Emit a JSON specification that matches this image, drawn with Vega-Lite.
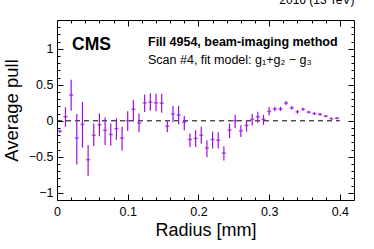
{
  "$schema": "https://vega.github.io/schema/vega-lite/v6.json",
  "width": 297,
  "height": 180,
  "autosize": "none",
  "padding": {"left": 57, "top": 20, "right": 20, "bottom": 49},
  "background": "white",
  "config": {
    "view": {"stroke": "black", "strokeWidth": 1},
    "font": "Liberation Sans",
    "axis": {"grid": false, "domain": false, "tickColor": "black", "labelColor": "black", "titleColor": "black", "labelFont": "Liberation Sans", "titleFont": "Liberation Sans", "titleFontWeight": "normal"}
  },
  "title": {"text": "2016 (13 TeV)", "anchor": "end", "fontSize": 12, "fontWeight": "normal", "font": "Liberation Sans", "offset": 4, "color": "black"},
  "data": {
    "values": [
      {"r": 0.004, "p": -0.145, "lo": -0.17, "hi": -0.12},
      {"r": 0.012, "p": 0.056, "lo": -0.084, "hi": 0.187},
      {"r": 0.020, "p": 0.36, "lo": 0.14, "hi": 0.57},
      {"r": 0.028, "p": -0.24, "lo": -0.607, "hi": 0.093},
      {"r": 0.036, "p": -0.05, "lo": -0.374, "hi": 0.262},
      {"r": 0.044, "p": -0.54, "lo": -0.762, "hi": -0.336},
      {"r": 0.052, "p": -0.2, "lo": -0.355, "hi": -0.037},
      {"r": 0.060, "p": -0.055, "lo": -0.215, "hi": 0.103},
      {"r": 0.068, "p": -0.13, "lo": -0.336, "hi": 0.047},
      {"r": 0.076, "p": -0.19, "lo": -0.346, "hi": -0.037},
      {"r": 0.084, "p": -0.11, "lo": -0.262, "hi": 0.037},
      {"r": 0.092, "p": -0.24, "lo": -0.411, "hi": -0.084},
      {"r": 0.100, "p": 0.0, "lo": -0.14, "hi": 0.131},
      {"r": 0.108, "p": 0.16, "lo": 0.01, "hi": 0.29},
      {"r": 0.116, "p": -0.03, "lo": -0.159, "hi": 0.103},
      {"r": 0.124, "p": 0.25, "lo": 0.121, "hi": 0.364},
      {"r": 0.132, "p": 0.26, "lo": 0.14, "hi": 0.383},
      {"r": 0.140, "p": 0.25, "lo": 0.131, "hi": 0.374},
      {"r": 0.148, "p": 0.245, "lo": 0.112, "hi": 0.374},
      {"r": 0.156, "p": -0.075, "lo": -0.159, "hi": 0.01},
      {"r": 0.164, "p": 0.095, "lo": -0.019, "hi": 0.206},
      {"r": 0.172, "p": 0.08, "lo": -0.047, "hi": 0.206},
      {"r": 0.180, "p": -0.02, "lo": -0.131, "hi": 0.065},
      {"r": 0.188, "p": -0.26, "lo": -0.364, "hi": -0.178},
      {"r": 0.196, "p": -0.245, "lo": -0.364, "hi": -0.131},
      {"r": 0.204, "p": -0.2, "lo": -0.318, "hi": -0.084},
      {"r": 0.212, "p": -0.38, "lo": -0.505, "hi": -0.271},
      {"r": 0.220, "p": -0.26, "lo": -0.383, "hi": -0.15},
      {"r": 0.228, "p": -0.27, "lo": -0.383, "hi": -0.159},
      {"r": 0.236, "p": -0.45, "lo": -0.551, "hi": -0.355},
      {"r": 0.244, "p": -0.13, "lo": -0.243, "hi": -0.037},
      {"r": 0.252, "p": 0.0, "lo": -0.103, "hi": 0.084},
      {"r": 0.260, "p": -0.14, "lo": -0.224, "hi": -0.061},
      {"r": 0.268, "p": -0.065, "lo": -0.15, "hi": 0.01},
      {"r": 0.276, "p": 0.02, "lo": -0.065, "hi": 0.093},
      {"r": 0.284, "p": 0.056, "lo": -0.028, "hi": 0.126},
      {"r": 0.292, "p": 0.02, "lo": -0.056, "hi": 0.084},
      {"r": 0.300, "p": 0.13, "lo": 0.075, "hi": 0.187},
      {"r": 0.308, "p": 0.165, "lo": 0.131, "hi": 0.196},
      {"r": 0.316, "p": 0.165, "lo": 0.135, "hi": 0.195},
      {"r": 0.324, "p": 0.245, "lo": 0.215, "hi": 0.275},
      {"r": 0.332, "p": 0.18, "lo": 0.155, "hi": 0.205},
      {"r": 0.340, "p": 0.125, "lo": 0.1, "hi": 0.15},
      {"r": 0.348, "p": 0.16, "lo": 0.14, "hi": 0.18},
      {"r": 0.356, "p": 0.12, "lo": 0.1, "hi": 0.14},
      {"r": 0.364, "p": 0.1, "lo": 0.08, "hi": 0.12},
      {"r": 0.372, "p": 0.09, "lo": 0.07, "hi": 0.11},
      {"r": 0.380, "p": 0.065, "lo": 0.05, "hi": 0.08},
      {"r": 0.388, "p": 0.03, "lo": 0.015, "hi": 0.045},
      {"r": 0.396, "p": 0.035, "lo": 0.02, "hi": 0.05}
    ]
  },
  "layer": [
    {
      "data": {"values": [{}]},
      "mark": {"type": "rule", "stroke": "black", "strokeWidth": 1, "strokeDash": [5, 4]},
      "encoding": {
        "x": {"datum": 0, "type": "quantitative", "scale": {"domain": [0, 0.42], "nice": false, "zero": false}, "axis": null},
        "x2": {"datum": 0.4},
        "y": {"datum": 0, "type": "quantitative", "scale": {"domain": [-1.1, 1.4], "nice": false, "zero": false}, "axis": null}
      }
    },
    {
      "mark": {"type": "rule", "stroke": "#9b10e0", "strokeWidth": 1.2},
      "encoding": {
        "x": {"field": "r", "type": "quantitative", "scale": {"domain": [0, 0.42], "nice": false, "zero": false},
          "axis": {"orient": "bottom", "values": [0, 0.02, 0.04, 0.06, 0.08, 0.1, 0.12, 0.14, 0.16, 0.18, 0.2, 0.22, 0.24, 0.26, 0.28, 0.3, 0.32, 0.34, 0.36, 0.38, 0.4],
            "format": "~g",
            "labelExpr": "abs(datum.value*10 - round(datum.value*10)) < 0.001 ? datum.label : ''",
            "tickSize": {"condition": {"test": "abs(datum.value*10 - round(datum.value*10)) < 0.001", "value": -6}, "value": -3},
            "labelPadding": 11, "labelFontSize": 12.5, "labelFlush": false,
            "title": "Radius [mm]", "titleFontSize": 18, "titlePadding": 4}},
        "y": {"field": "lo", "type": "quantitative", "scale": {"domain": [-1.1, 1.4], "nice": false, "zero": false},
          "axis": {"orient": "left", "values": [-1, -0.9, -0.8, -0.7, -0.6, -0.5, -0.4, -0.3, -0.2, -0.1, 0, 0.1, 0.2, 0.3, 0.4, 0.5, 0.6, 0.7, 0.8, 0.9, 1, 1.1, 1.2, 1.3],
            "format": "~g",
            "labelExpr": "abs(datum.value*2 - round(datum.value*2)) < 0.001 ? datum.label : ''",
            "tickSize": {"condition": {"test": "abs(datum.value*2 - round(datum.value*2)) < 0.001", "value": -6}, "value": -3},
            "labelPadding": 10, "labelFontSize": 12.5, "labelFlush": false,
            "title": "Average pull", "titleFontSize": 18.5, "titlePadding": 7}},
        "y2": {"field": "hi"}
      }
    },
    {
      "mark": {"type": "tick", "orient": "horizontal", "color": "#9b10e0", "size": 4, "thickness": 1.5},
      "encoding": {
        "x": {"field": "r", "type": "quantitative", "scale": {"domain": [0, 0.42], "nice": false, "zero": false},
          "axis": {"orient": "top", "values": [0, 0.02, 0.04, 0.06, 0.08, 0.1, 0.12, 0.14, 0.16, 0.18, 0.2, 0.22, 0.24, 0.26, 0.28, 0.3, 0.32, 0.34, 0.36, 0.38, 0.4],
            "labelExpr": "''", "labelFlush": false, "title": null,
            "tickSize": {"condition": {"test": "abs(datum.value*10 - round(datum.value*10)) < 0.001", "value": -6}, "value": -3}}},
        "y": {"field": "p", "type": "quantitative", "scale": {"domain": [-1.1, 1.4], "nice": false, "zero": false},
          "axis": {"orient": "right", "values": [-1, -0.9, -0.8, -0.7, -0.6, -0.5, -0.4, -0.3, -0.2, -0.1, 0, 0.1, 0.2, 0.3, 0.4, 0.5, 0.6, 0.7, 0.8, 0.9, 1, 1.1, 1.2, 1.3],
            "labelExpr": "''", "labelFlush": false, "title": null,
            "tickSize": {"condition": {"test": "abs(datum.value*2 - round(datum.value*2)) < 0.001", "value": -6}, "value": -3}}}
      }
    },
    {
      "data": {"values": [{}]},
      "mark": {"type": "text", "text": "CMS", "font": "Liberation Sans", "fontSize": 17.5, "fontWeight": "bold", "align": "left", "baseline": "alphabetic", "color": "black"},
      "encoding": {
        "x": {"datum": 0.0212, "type": "quantitative", "scale": {"domain": [0, 0.42], "nice": false, "zero": false}, "axis": null},
        "y": {"datum": 0.983, "type": "quantitative", "scale": {"domain": [-1.1, 1.4], "nice": false, "zero": false}, "axis": null}
      }
    },
    {
      "data": {"values": [{}]},
      "mark": {"type": "text", "text": "Fill 4954, beam-imaging method", "font": "Liberation Sans", "fontSize": 12.5, "fontWeight": "bold", "align": "left", "baseline": "alphabetic", "color": "black"},
      "encoding": {
        "x": {"datum": 0.1287, "type": "quantitative", "scale": {"domain": [0, 0.42], "nice": false, "zero": false}, "axis": null},
        "y": {"datum": 1.043, "type": "quantitative", "scale": {"domain": [-1.1, 1.4], "nice": false, "zero": false}, "axis": null}
      }
    },
    {
      "data": {"values": [{}]},
      "mark": {"type": "text", "text": "Scan #4, fit model: g₁+g₂ − g₃", "font": "Liberation Sans", "fontSize": 12.5, "align": "left", "baseline": "alphabetic", "color": "black"},
      "encoding": {
        "x": {"datum": 0.1287, "type": "quantitative", "scale": {"domain": [0, 0.42], "nice": false, "zero": false}, "axis": null},
        "y": {"datum": 0.789, "type": "quantitative", "scale": {"domain": [-1.1, 1.4], "nice": false, "zero": false}, "axis": null}
      }
    }
  ],
  "resolve": {"scale": {"x": "independent", "y": "independent"}, "axis": {"x": "independent", "y": "independent"}}
}
